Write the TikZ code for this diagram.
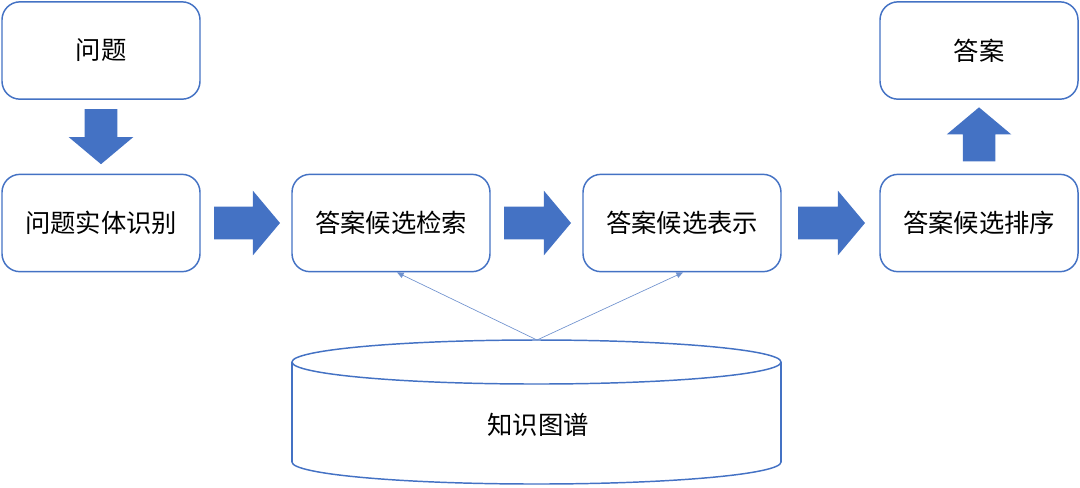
\documentclass[tikz,border=0pt]{standalone}
\usepackage{fontspec}
\newfontfamily\cjk{Noto Sans CJK SC}
\usetikzlibrary{arrows.meta,shapes.arrows,calc}
\definecolor{boxblue}{RGB}{68,114,196}
\definecolor{lineblue}{RGB}{112,146,206}
\tikzset{
  stepbox/.style={draw=boxblue, line width=1.1pt, rounded corners=13.5pt, fill=white,
    minimum width=148.5pt, minimum height=73pt, font=\cjk\fontsize{19}{23}\selectfont},
  blockarrow/.style={single arrow, fill=boxblue, draw=none, inner sep=0pt,
    text height=12pt, text depth=12pt, text width=0pt, anchor=tail,
    single arrow head extend=12pt, single arrow tip angle=100},
  thinarrow/.style={draw=lineblue, line width=0.5pt,
    -{Triangle[length=5pt, width=4.5pt, line width=0pt]}},
  dbline/.style={draw=boxblue, line width=1.1pt},
}
\begin{document}
\begin{tikzpicture}[x=0.75pt,y=0.75pt,yscale=-1,xscale=1]
\useasboundingbox (0,0) rectangle (1080,487);

%Shape: Rounded Rect
\node[stepbox] (q)    at (101,50.5) {问题};
\node[stepbox] (qe)   at (101,223)  {问题实体识别};
\node[stepbox] (ret)  at (391,223)  {答案候选检索};
\node[stepbox] (rep)  at (682,223)  {答案候选表示};
\node[stepbox] (rank) at (979,223)  {答案候选排序};
\node[stepbox] (ans)  at (979,50.5) {答案};

%Shape: Can
\draw[dbline] (536.5,462) ellipse [x radius=183.4pt, y radius=16.5pt];
\fill[white] (292,362) rectangle (781,462);
\draw[dbline] (292,362) -- (292,462);
\draw[dbline] (781,362) -- (781,462);
\draw[dbline, fill=white] (536.5,362) ellipse [x radius=183.4pt, y radius=16.5pt];
\node[font=\cjk\fontsize{19}{23}\selectfont] (kg) at (538,425) {知识图谱};
\coordinate (kgtop) at (537,340);

%Block Arrows
\node[blockarrow, minimum height=41.25pt, rotate=-90] (a1) at ($(q.south)+(0,9)$) {};
\node[blockarrow, minimum height=49.5pt] (a2) at ($(qe.east)+(13,0)$) {};
\node[blockarrow, minimum height=50.25pt] (a3) at ($(ret.east)+(13,0)$) {};
\node[blockarrow, minimum height=50.25pt] (a4) at ($(rep.east)+(16,0)$) {};
\node[blockarrow, minimum height=40.5pt, rotate=90] (a5) at ($(rank.north)+(0,-12)$) {};

%Straight Lines
\draw[thinarrow] (kgtop) -- ([xshift=4.5pt]ret.south);
\draw[thinarrow] (kgtop) -- ([xshift=0.75pt]rep.south);
\end{tikzpicture}
\end{document}
